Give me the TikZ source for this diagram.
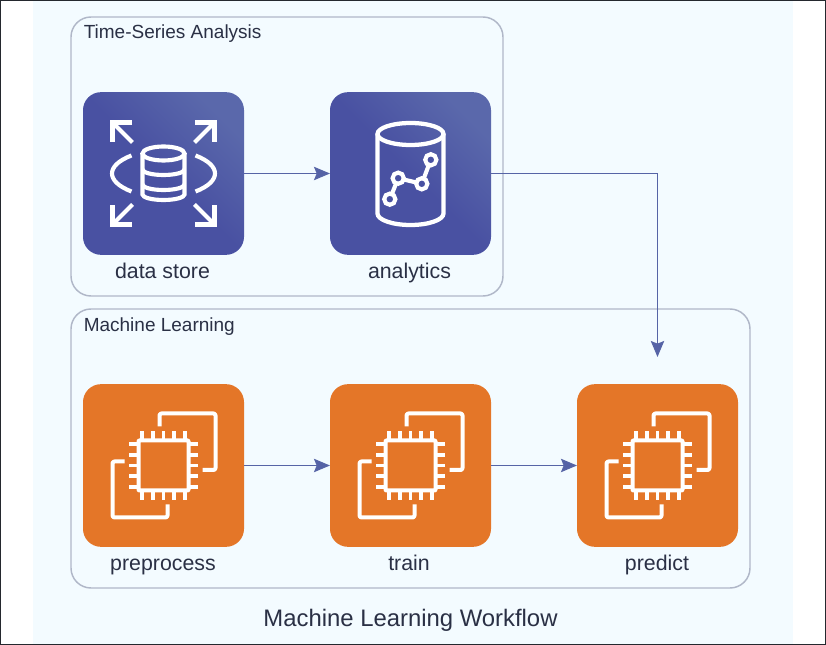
\documentclass[tikz,border=0pt]{standalone}
\usepackage{fontspec}
\setmainfont{Liberation Sans}
\usetikzlibrary{arrows.meta}
\definecolor{panel}{HTML}{F3FBFF}
\definecolor{clusterline}{HTML}{B0B7C8}
\definecolor{ink}{HTML}{2A3045}
\definecolor{framecol}{HTML}{24282E}
\definecolor{edgeblue}{HTML}{5664A6}
\definecolor{blueA}{HTML}{4951A2}
\definecolor{blueB}{HTML}{5A68AB}
\definecolor{orangeA}{HTML}{E47628}
\tikzset{
  x=0.75pt,y=-0.75pt,
  tilebase/.style={minimum width=120.75pt,minimum height=122pt,inner sep=0pt,rounded corners=13.5pt,outer sep=0pt},
  bluetile/.style={tilebase,draw=none,shade,shading=axis,top color=blueB,bottom color=blueA,middle color=blueA,shading angle=-45},
  orangetile/.style={tilebase,fill=orangeA},
  clusterbox/.style={draw=clusterline,line width=1.1pt,rounded corners=15pt,inner sep=0pt,outer sep=0pt},
  tilelabel/.style={text=ink,font=\fontsize{16}{18}\selectfont,inner sep=0pt,anchor=base},
  clusterlabel/.style={text=ink,font=\fontsize{14.25}{17}\selectfont,inner sep=0pt,anchor=base west},
  titlelabel/.style={text=ink,font=\fontsize{17.9}{21}\selectfont,inner sep=0pt,anchor=base},
  conn/.style={draw=edgeblue,line width=1.2pt,-{Stealth[length=12pt,width=10pt,inset=2pt,fill=edgeblue!90!blueA]}},
  iconline/.style={draw=white,line width=3.1pt,line join=miter},
  iconthin/.style={draw=white,line width=3pt,line join=round,rounded corners=1.5pt},
}
\newcommand{\cornerarrow}{%
  \draw[iconline] (-31.5,-51) -- (-51,-51) -- (-51,-31.5);
  \draw[iconline] (-51,-51) -- (-31,-31);
}
\newcommand{\storeicon}[1]{%
  \begin{scope}[shift={(#1.center)}]
    \foreach \sx in {1,-1}{\foreach \sy in {1,-1}{
      \begin{scope}[xscale=\sx,yscale=\sy]\cornerarrow\end{scope}}}
    \draw[iconline] (-32,-18) .. controls (-58,-8) and (-58,8) .. (-32,18);
    \draw[iconline] (32,-18) .. controls (58,-8) and (58,8) .. (32,18);
    \draw[iconline] (0,-20) ellipse [x radius=21,y radius=7];
    \draw[iconline] (-21,-20) -- (-21,21) arc[start angle=180,end angle=360,x radius=21,y radius=-5.5] -- (21,-20);
    \draw[iconline] (-21,-4) arc[start angle=180,end angle=360,x radius=21,y radius=-5.5];
    \draw[iconline] (-21,11) arc[start angle=180,end angle=360,x radius=21,y radius=-5.5];
  \end{scope}
}
\newcommand{\analyticsicon}[1]{%
  \begin{scope}[shift={(#1.center)}]
    \draw[iconline,line width=3.2pt] (0,-39.5) ellipse [x radius=33,y radius=11];
    \draw[iconline,line width=3.2pt] (-33,-39.5) -- (-33,40) arc[start angle=180,end angle=360,x radius=33,y radius=-11.5] -- (33,-39.5);
    \draw[iconline] (-20.7,25.7) -- (-12.3,4.7) -- (11.3,10.3) -- (20.3,-13.7);
    \foreach \px/\py in {20.3/-13.7,-12.3/4.7,11.3/10.3,-20.7/25.7}
      \draw[iconline,fill=blueA] (\px,\py) circle [radius=5.6];
  \end{scope}
}
\newcommand{\chipicon}[1]{%
  \begin{scope}[shift={(#1.center)}]
    \draw[iconthin] (-4,-39) -- (-4,-52) -- (52,-52) -- (52,4.5) -- (39,4.5);
    \draw[iconthin] (-39,-4) -- (-51,-4) -- (-51,52) -- (4,52) -- (4,39);
    \draw[iconthin,rounded corners=0.5pt] (-25,-25) rectangle (25,25);
    \foreach \p in {-21.5,-10.75,0,10.75,21.5}{
      \draw[iconline,line width=2.7pt] (\p,-25) -- (\p,-34.5);
      \draw[iconline,line width=2.7pt] (\p,25) -- (\p,34.5);
      \draw[iconline,line width=2.7pt] (-25,\p) -- (-34.5,\p);
      \draw[iconline,line width=2.7pt] (25,\p) -- (34.5,\p);
    }
  \end{scope}
}
\begin{document}
\begin{tikzpicture}
  \useasboundingbox (0,0) rectangle (826,645);
  \fill[white] (0,0) rectangle (826,645);
  \fill[panel] (33,0) rectangle (793,645);
  \draw[framecol,line width=1pt] (0.6,0.6) rectangle (825.4,644.4);

  \node[clusterbox,minimum width=324pt,minimum height=209.25pt] (tsbox) at (287,156.5) {};
  \node[clusterbox,minimum width=509.25pt,minimum height=209.25pt] (mlbox) at (410.5,448.5) {};
  \node[clusterlabel] (tslabel) at (83.5,39) {Time-Series Analysis};
  \node[clusterlabel] (mllabel) at (83.5,332) {Machine Learning};

  \node[bluetile] (datastore) at (163.5,173.5) {};
  \node[bluetile] (analytics) at (410.5,173.5) {};
  \node[orangetile] (preprocess) at (163.5,465.5) {};
  \node[orangetile] (train) at (410.5,465.5) {};
  \node[orangetile] (predict) at (657.5,465.5) {};

  \storeicon{datastore}
  \analyticsicon{analytics}
  \chipicon{preprocess}
  \chipicon{train}
  \chipicon{predict}

  \node[tilelabel] (l1) at (162.5,278.5) {data store};
  \node[tilelabel] (l2) at (409.5,278.5) {analytics};
  \node[tilelabel] (l3) at (163,570.5) {preprocess};
  \node[tilelabel] (l4) at (409,570.5) {train};
  \node[tilelabel] (l5) at (657,570.5) {predict};
  \node[titlelabel] (title) at (410.5,627) {Machine Learning Workflow};

  \coordinate (predictin) at (657.5,357);
  \draw[conn] (datastore.east) -- (analytics.west);
  \draw[conn] (analytics.east) -| (predictin);
  \draw[conn] (preprocess.east) -- (train.west);
  \draw[conn] (train.east) -- (predict.west);
\end{tikzpicture}
\end{document}
